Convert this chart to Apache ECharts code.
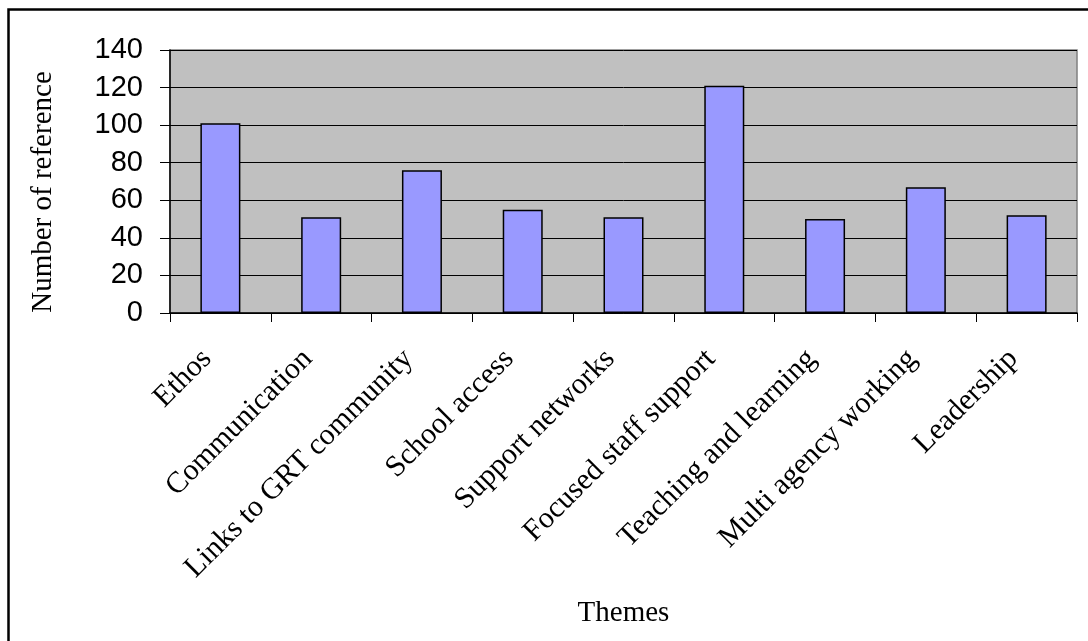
<!DOCTYPE html>
<html>
<head>
<meta charset="utf-8">
<script src="https://cdn.jsdelivr.net/npm/echarts@6/dist/echarts.min.js"></script>
<style>
  html, body { margin: 0; padding: 0; background: #fff; }
  #chart { width: 1088px; height: 641px; }
</style>
</head>
<body>
<div id="chart"></div>
<script>
// Number of coded references per theme
const themes = [
  'Ethos',
  'Communication',
  'Links to GRT community',
  'School access',
  'Support networks',
  'Focused staff support',
  'Teaching and learning',
  'Multi agency working',
  'Leadership'
];
const references = [101, 51, 76, 55, 51, 121, 50, 67, 52];
const yTicks = { min: 0, max: 140, step: 20 };

const serif = '"Liberation Serif", "Times New Roman", serif';
const sans = '"Liberation Sans", Arial, sans-serif';

const chart = echarts.init(document.getElementById('chart'), null, { renderer: 'canvas' });

chart.setOption({
  animation: false,
  backgroundColor: '#ffffff',
  graphic: [{
    type: 'rect',
    left: 6,
    top: 7,
    shape: { width: 1200, height: 800 },
    style: { fill: 'none', stroke: '#000', lineWidth: 2.5 },
    silent: true,
    z: 100
  }],
  grid: {
    left: 170,
    right: 11,
    top: 50,
    bottom: 328,
    show: true,
    backgroundColor: '#c0c0c0',
    borderColor: '#808080',
    borderWidth: 1.5
  },
  xAxis: {
    type: 'category',
    data: themes,
    name: 'Themes',
    nameLocation: 'middle',
    nameGap: 286,
    nameTextStyle: { fontFamily: serif, fontSize: 29, color: '#000' },
    axisLine: { lineStyle: { color: '#000', width: 1.5 } },
    axisTick: { show: true, interval: 0, length: 9, lineStyle: { color: '#000', width: 1 } },
    axisLabel: {
      interval: 0,
      rotate: 45,
      margin: 28,
      padding: [0, 19, 0, 0],
      fontFamily: serif,
      fontSize: 30,
      color: '#000'
    },
    splitLine: { show: false }
  },
  yAxis: {
    type: 'value',
    min: yTicks.min,
    max: yTicks.max,
    interval: yTicks.step,
    name: 'Number of references',
    nameLocation: 'middle',
    nameRotate: 90,
    nameGap: 112,
    nameTruncate: { maxWidth: 246, ellipsis: '' },
    nameTextStyle: {
      fontFamily: serif,
      fontSize: 29,
      color: '#000',
      padding: [0, 21, 0, 0]
    },
    axisLine: { show: true, lineStyle: { color: '#000', width: 1.5 } },
    axisTick: { show: true, length: 10, lineStyle: { color: '#000', width: 1 } },
    axisLabel: { margin: 27, fontFamily: sans, fontSize: 29, color: '#000' },
    splitLine: { show: true, lineStyle: { color: '#000', width: 1 } }
  },
  series: [{
    type: 'bar',
    data: references,
    barWidth: 40,
    itemStyle: { color: '#9999ff', borderColor: '#000', borderWidth: 1.5 }
  }]
});
</script>
</body>
</html>
